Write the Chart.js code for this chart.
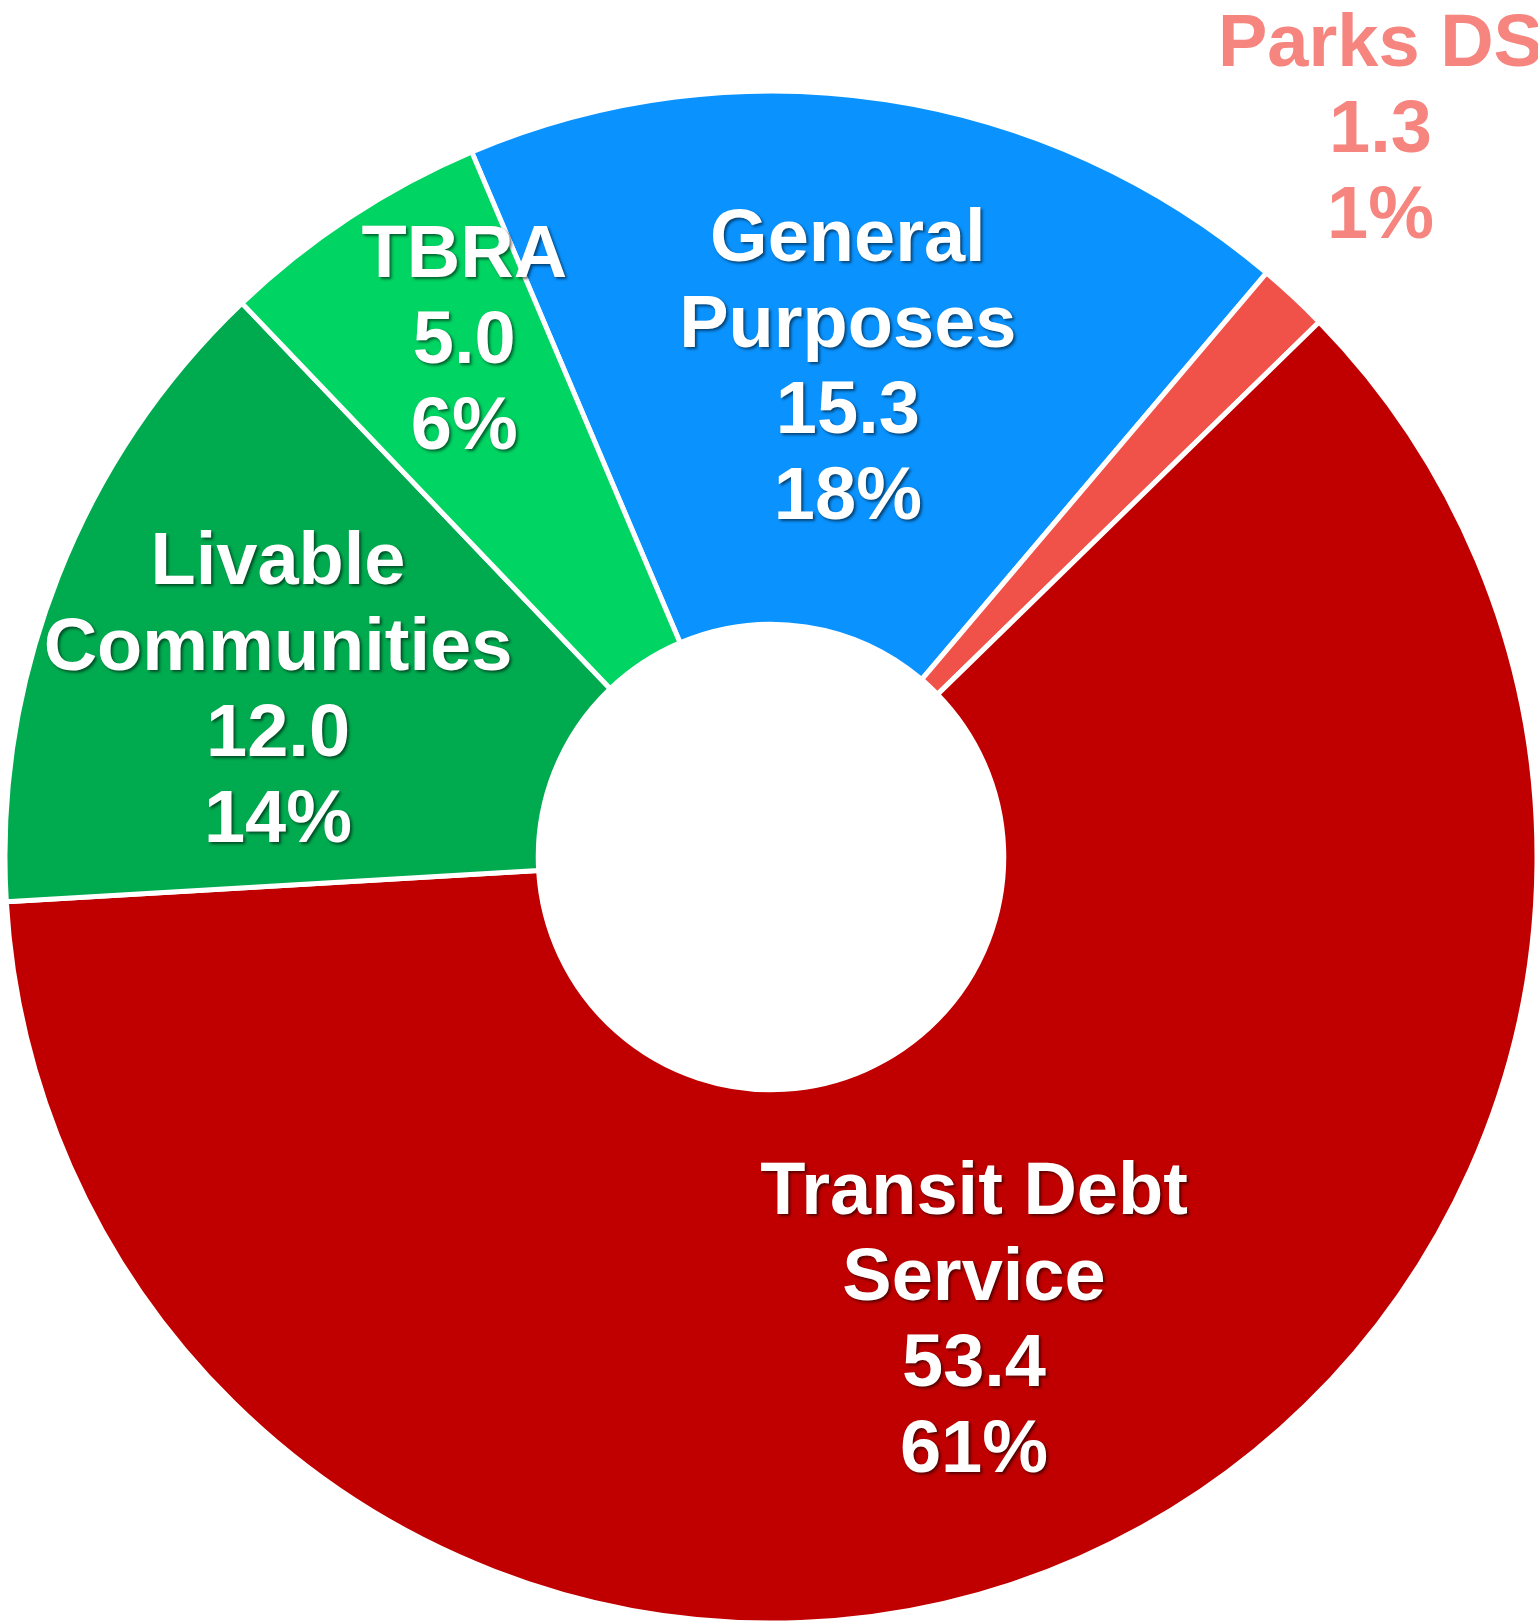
<!DOCTYPE html>
<html>
<head>
<meta charset="utf-8">
<script src="https://cdn.jsdelivr.net/npm/chart.js@4/dist/chart.umd.min.js"></script>
<style>
body{margin:0;background:#fff;}
#wrap{width:1538px;height:1623px;}
</style>
</head>
<body>
<div id="wrap"><canvas id="chart" width="1538" height="1623"></canvas></div>
<script>

/* -------- DATA -------- */

const labels = ["General Purposes", "Parks DS", "Transit Debt Service", "Livable Communities", "TBRA"];
const labelLines = [["General","Purposes"], ["Parks DS"], ["Transit Debt","Service"], ["Livable","Communities"], ["TBRA"]];
const values = [15.3, 1.3, 53.4, 12.0, 5.0];

const colors = ["#0A93FF", "#F0524A", "#C00000", "#00AA4F", "#00D462"];
const textColors = ["#ffffff", "#F5857E", "#ffffff", "#ffffff", "#ffffff"];
const textShadow = [true, false, true, true, true];

// where each label sits: radius (fraction of outer radius) and nudge from mid angle (deg)
const labelRadius = [0.652, 1.243, 0.656, 0.681, 0.789];
const labelNudge = [0.2, -3.2, 0, -2.4, 2.85];

const total = values.reduce((a,b)=>a+b, 0);


/* -------- LABEL PLUGIN -------- */

const sliceLabels = {
  id: "sliceLabels",
  afterDatasetsDraw(chart){
    const ctx = chart.ctx;
    const meta = chart.getDatasetMeta(0);
    const size = 74;
    const lh = 86;

    meta.data.forEach((arc, i) => {
      const p = arc.getProps(["x","y","startAngle","endAngle","outerRadius"], true);
      const mid = (p.startAngle + p.endAngle)/2 + labelNudge[i]*Math.PI/180;
      const r = p.outerRadius * labelRadius[i];
      const cx = p.x + Math.cos(mid)*r;
      const cy = p.y + Math.sin(mid)*r;

      const pct = Math.round(values[i]/total*100) + "%";
      const lines = labelLines[i].concat([values[i].toFixed(1), pct]);

      ctx.save();
      ctx.font = "bold " + size + "px 'Liberation Sans', Arial, sans-serif";
      ctx.textAlign = "center";
      ctx.textBaseline = "alphabetic";
      ctx.fillStyle = textColors[i];
      if(textShadow[i]){
        ctx.shadowColor = "rgba(0,0,0,0.55)";
        ctx.shadowOffsetX = 2;
        ctx.shadowOffsetY = 2;
        ctx.shadowBlur = 3;
      }
      lines.forEach((t, k) => {
        const y = cy + (k - (lines.length-1)/2)*lh + 0.358*size;
        ctx.fillText(t, cx, y);
      });
      ctx.restore();
    });
  }
};


/* -------- CHART -------- */

new Chart(document.getElementById("chart"), {
  type: "doughnut",
  data: {
    labels: labels,
    datasets: [{
      data: values,
      backgroundColor: colors,
      borderColor: "#ffffff",
      borderWidth: 5
    }]
  },
  options: {
    responsive: false,
    animation: false,
    events: [],
    rotation: -23,
    radius: 766,
    cutout: 232,
    layout: { padding: { top: 91, left: 4 } },
    plugins: {
      legend: { display: false },
      tooltip: { enabled: false }
    }
  },
  plugins: [sliceLabels]
});

</script>
</body>
</html>
